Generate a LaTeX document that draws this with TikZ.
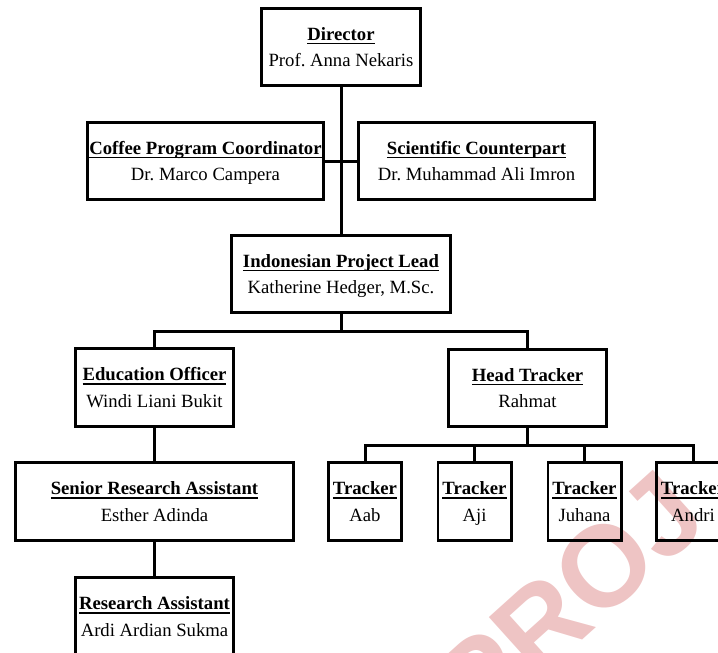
\documentclass[tikz,border=0pt]{standalone}
\usepackage{fontspec}
\setmainfont{Liberation Serif}
\newfontfamily\wmfont{Liberation Sans}
\newcommand\hdul[1]{\rule{0pt}{17.5pt}\setbox0=\hbox{\textbf{#1}}\rlap{\rule[-4pt]{\wd0}{1.4pt}}\box0}
\newcommand\nm[1]{#1\rule[-5pt]{0pt}{5pt}}
\definecolor{wmpink}{RGB}{238,196,196}
\tikzset{
  orgbox/.style={draw=black, line width=2.7pt, inner sep=0pt, align=center,
    minimum height=77.3pt, font=\fontsize{18.7}{26.5}\selectfont},
  link/.style={draw=black, line width=3pt}
}
\begin{document}
\begin{tikzpicture}[x=1pt, y=-1pt]
\useasboundingbox (0,0) rectangle (718,653);
\clip (0,0) rectangle (718,653);
% watermark
\node[anchor=base west, rotate=42, text=wmpink, inner sep=0pt,
  font=\wmfont\bfseries\fontsize{115}{115}\selectfont] (wm) at (479,733) {PROJ};
% boxes
\node[orgbox, minimum width=159.3pt] (dir) at (341,47) {\hdul{Director}\\\nm{Prof.\ Anna Nekaris}};
\node[orgbox, minimum width=236.3pt] (cof) at (205.5,161) {\hdul{Coffee Program Coordinator}\\\nm{Dr.\ Marco Campera}};
\node[orgbox, minimum width=236.3pt] (sci) at (476.5,161) {\hdul{Scientific Counterpart}\\\nm{Dr.\ Muhammad Ali Imron}};
\node[orgbox, minimum width=219.3pt] (ind) at (341,274) {\hdul{Indonesian Project Lead}\\\nm{Katherine Hedger, M.Sc.}};
\node[orgbox, minimum width=158.3pt, minimum height=78.3pt] (edu) at (154.5,387.5) {\hdul{Education Officer}\\\nm{Windi Liani Bukit}};
\node[orgbox, minimum width=158.3pt] (head) at (527.5,388) {\hdul{Head Tracker}\\\nm{Rahmat}};
\node[orgbox, minimum width=278.3pt, minimum height=78.3pt] (sen) at (154.5,501.5) {\hdul{Senior Research Assistant}\\\nm{Esther Adinda}};
\node[orgbox, minimum width=158.3pt, minimum height=78.3pt] (ra) at (154.5,616.5) {\hdul{Research Assistant}\\\nm{Ardi Ardian Sukma}};
\node[orgbox, minimum width=73.3pt, minimum height=78.3pt] (t1) at (365,501.5) {\hdul{Tracker}\\\nm{Aab}};
\node[orgbox, minimum width=73.3pt, minimum height=78.3pt] (t2) at (474.5,501.5) {\hdul{Tracker}\\\nm{Aji}};
\node[orgbox, minimum width=73.3pt, minimum height=78.3pt] (t3) at (584.5,501.5) {\hdul{Tracker}\\\nm{Juhana}};
\node[orgbox, minimum width=73.3pt, minimum height=78.3pt] (t4) at (693,501.5) {\hdul{Tracker}\\\nm{Andri}};
% connectors
\coordinate (busA) at (341,331);
\coordinate (busB) at (527.5,445);
\draw[link] (dir.south) -- (ind.north);
\draw[link] (cof.east) -- (sci.west);
\draw[link] (ind.south) -- (busA);
\draw[link] (edu.north) |- (busA) -| (head.north);
\draw[link] (edu.south) -- (sen.north);
\draw[link] (sen.south) -- (ra.north);
\draw[link] (head.south) -- (busB);
\draw[link] (t1.north) |- (busB) -| (t4.north);
\draw[link] (t2.north) |- (busB);
\draw[link] (t3.north) |- (busB);
\end{tikzpicture}
\end{document}
